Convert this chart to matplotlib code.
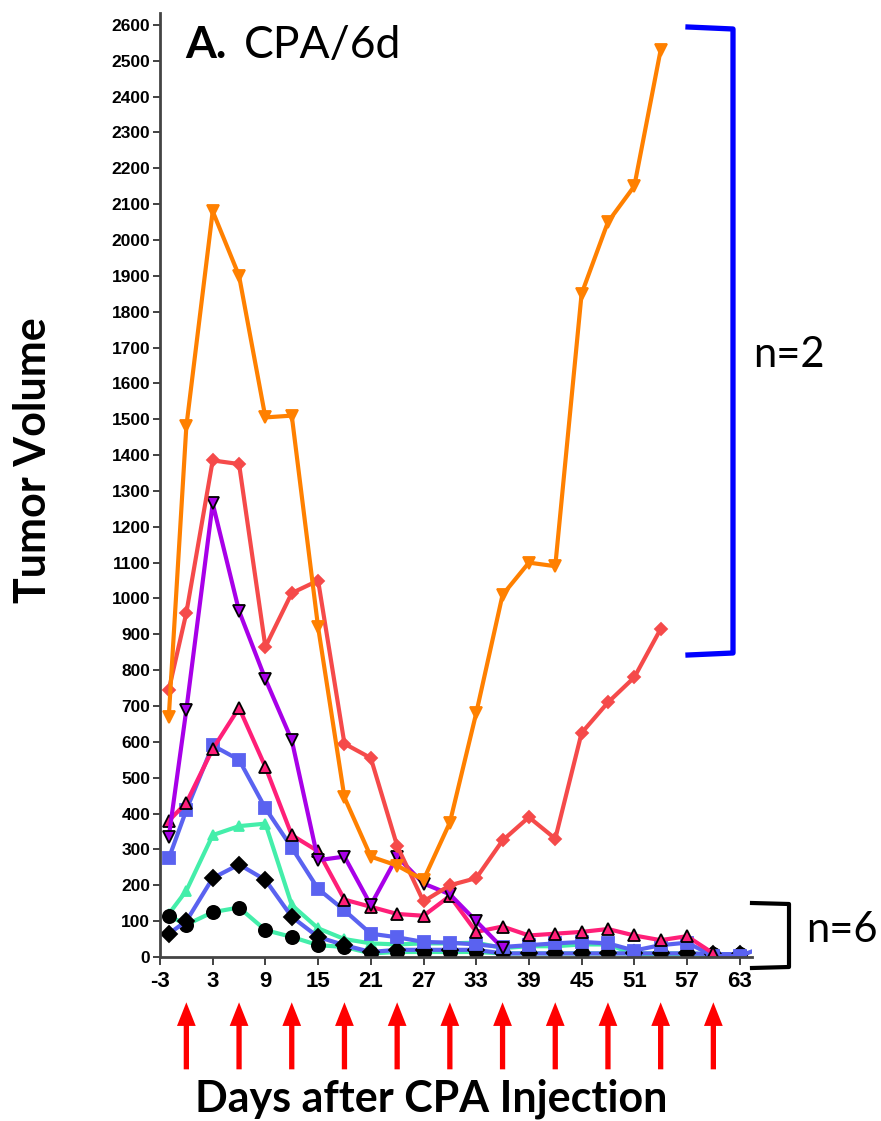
import matplotlib
matplotlib.use("Agg")
import matplotlib.pyplot as plt
from matplotlib.lines import Line2D

# ---------------------------------------------------------------- data
days = [-2, 0, 3, 6, 9, 12, 15, 18, 21, 24, 27, 30, 33, 36, 39, 42, 45,
        48, 51, 54, 57, 60, 63, 66]

orange_tri = [670, 1480, 2080, 1900, 1505, 1510, 920, 445, 280, 255, 215,
              375, 680, 1010, 1100, 1090, 1850, 2050, 2150, 2530]
red_diamond = [745, 960, 1385, 1375, 865, 1015, 1050, 595, 555, 310, 155,
               200, 220, 325, 390, 330, 625, 710, 780, 915]
purple_tri = [335, 690, 1265, 965, 775, 605, 270, 280, 145, 280, 205, 175,
              100, 25]
pink_tri = [380, 430, 580, 695, 530, 340, 295, 160, 140, 120, 115, 170, 70,
            85, 60, 65, 70, 78, 60, 47, 58, 10]
blue_square = [275, 410, 590, 550, 415, 305, 190, 130, 65, 55, 42, 40, 35,
               28, 33, 38, 42, 38, 18, 33, 40, 3, 3, 30]
teal_tri = [120, 185, 340, 365, 372, 145, 80, 50, 38, 35, 38, 38, 40, 25,
            30, 30, 35, 35, 8, 8, 8, 5, 5]
black_diamond = [65, 100, 220, 258, 215, 112, 56, 33, 14, 20, 20, 20, 20,
                 10, 10, 10, 10, 10, 10, 10, 10, 8, 8]
black_circle = [115, 90, 125, 138, 75, 56, 33, 28, 10, 14, 14, 14, 14, 10,
                10, 10, 10, 10, 10, 10, 10, 8, 8]

injection_days = [0, 6, 12, 18, 24, 30, 36, 42, 48, 54, 60]
x_ticks = list(range(-3, 64, 6))
y_ticks = list(range(0, 2601, 100))

# (values, line colour, marker, marker face, marker edge, size)
series = [
    (teal_tri, "#44eeaa", "^", "#44eeaa", "#44eeaa", 7),
    (black_circle, "#44eeaa", "o", "black", "black", 9.5),
    (black_diamond, "#5a62f0", "D", "black", "black", 8.5),
    (blue_square, "#5a62f0", "s", "#5a62f0", "#5a62f0", 8.5),
    (pink_tri, "#ff1f78", "^", "#ff1f78", "black", 9),
    (purple_tri, "#a800e8", "v", "#a800e8", "black", 9),
    (red_diamond, "#f54a4a", "D", "#f54a4a", "#f54a4a", 6.5),
    (orange_tri, "#ff8000", "v", "#ff8000", "#ff8000", 8),
]

# ---------------------------------------------------------------- figure
fig = plt.figure(figsize=(8.81, 11.21), dpi=100)
ax = fig.add_axes([160 / 881, 164 / 1121, 592 / 881, 944 / 1121])

for vals, lc, mk, mf, me, ms in series:
    ax.plot(days[:len(vals)], vals, color=lc, lw=3, marker=mk,
            markersize=ms, markerfacecolor=mf, markeredgecolor=me,
            markeredgewidth=1.3)

ax.set_xlim(-3, 64.4)
ax.set_ylim(0, 2633)
ax.set_xticks(x_ticks)
ax.set_yticks(y_ticks)
ax.set_xticklabels([str(t) for t in x_ticks], fontsize=16,
                   fontweight="bold", family="Liberation Sans")
ax.set_yticklabels([str(t) for t in y_ticks], fontsize=12.5,
                   fontweight="bold", family="Liberation Sans")
ax.tick_params(axis="y", length=5, width=1.3, pad=2, color="#333333")
ax.tick_params(axis="x", length=6, width=1.3, pad=4, color="#333333")
for side in ["top", "right"]:
    ax.spines[side].set_visible(False)
for side in ["left", "bottom"]:
    ax.spines[side].set_linewidth(2)
    ax.spines[side].set_color("#444444")

# red arrows for the CPA injections, below the axis
trans = ax.get_xaxis_transform()
for d in injection_days:
    ax.annotate("", xy=(d, -0.048), xytext=(d, -0.119), xycoords=trans,
                textcoords=trans, annotation_clip=False,
                arrowprops=dict(width=3.8, headwidth=13.5, headlength=17,
                                shrink=0, color="#ff0000", lw=0))

# ---------------------------------------------------------------- overlay (pixel coords)
ov = fig.add_axes([0, 0, 1, 1])
ov.set_xlim(0, 881)
ov.set_ylim(1121, 0)
ov.axis("off")

ov.text(185, 45, "A.", fontsize=32, fontweight="bold", family="Lato",
        ha="left", va="center")
ov.text(244, 45, "CPA/6d", fontsize=32, family="Lato", ha="left",
        va="center")

ov.text(33, 460, "Tumor Volume", fontsize=31, fontweight="bold",
        family="Lato", rotation=90, ha="center", va="center")
ov.text(431, 1099, "Days after CPA Injection", fontsize=31,
        fontweight="bold", family="Lato", ha="center", va="center")

# brackets
ov.add_line(Line2D([688, 733, 733, 688], [27, 29, 653, 655], color="#0000ff",
                   lw=3.8, solid_joinstyle="round"))
ov.add_line(Line2D([752, 789, 789, 752], [903, 904, 967, 968], color="black",
                   lw=3, solid_joinstyle="round"))
ov.text(789, 355, "n=2", fontsize=30, family="Lato", ha="center",
        va="center")
ov.text(842, 930, "n=6", fontsize=30, family="Lato", ha="center",
        va="center")

fig.savefig("out.png", dpi=100)
